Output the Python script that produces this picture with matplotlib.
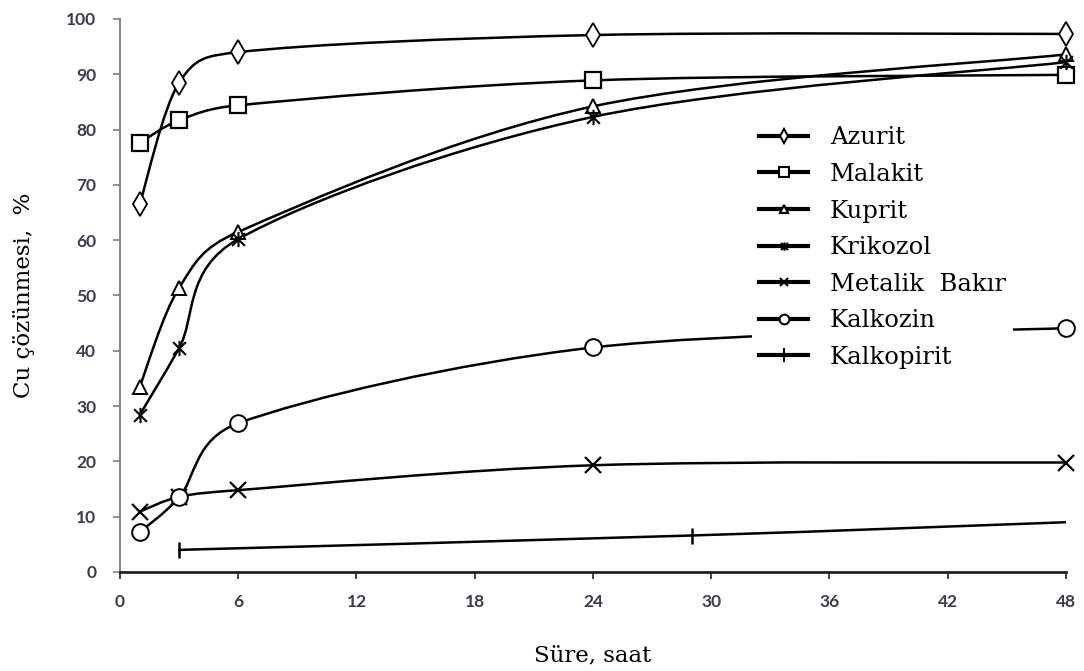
import numpy as np
import matplotlib
matplotlib.use("Agg")
import matplotlib.pyplot as plt
from matplotlib.path import Path
from matplotlib.patches import PathPatch
from matplotlib.lines import Line2D

# data (time in hours, Cu dissolution in %)
t = [1, 3, 6, 24, 48]
azurit = [66.5, 88.5, 94.0, 97.1, 97.3]
malakit = [77.6, 81.7, 84.4, 88.9, 89.9]
kuprit = [33.5, 51.4, 61.5, 84.2, 93.6]
krikozol = [28.4, 40.5, 60.2, 82.3, 92.2]
metalik_bakir = [10.9, 13.6, 14.8, 19.3, 19.8]
kalkozin = [7.2, 13.5, 26.9, 40.6, 44.1]
t_kalkopirit = [3, 29, 48]
kalkopirit = [4.0, 6.6, 9.0]

labels = ["Azurit", "Malakit", "Kuprit", "Krikozol", "Metalik  Bakır", "Kalkozin", "Kalkopirit"]
xticks = [0, 6, 12, 18, 24, 30, 36, 42, 48]
yticks = [0, 10, 20, 30, 40, 50, 60, 70, 80, 90, 100]

# asterisk-like star marker (x with a vertical stroke)
star = Path([(-1, -1), (1, 1), (-1, 1), (1, -1), (0, -1.2), (0, 1.2)],
            [Path.MOVETO, Path.LINETO, Path.MOVETO, Path.LINETO, Path.MOVETO, Path.LINETO])

fig = plt.figure(figsize=(10.84, 6.71), dpi=100)
ax = fig.add_axes([120 / 1084, 1 - 572 / 671, 946 / 1084, 553 / 671])
ax.set_xlim(0, 48)
ax.set_ylim(0, 100)


def smooth_line(ax, xs, ys, lw=1.8):
    """Excel-like smoothed line: cubic Beziers built in pixel space."""
    pts = ax.transData.transform(np.column_stack([xs, ys]))
    n = len(pts)
    verts = [pts[0]]
    codes = [Path.MOVETO]
    for i in range(n - 1):
        p0 = pts[max(i - 1, 0)]
        p1 = pts[i]
        p2 = pts[i + 1]
        p3 = pts[min(i + 2, n - 1)]
        seg = np.hypot(*(p2 - p1))
        a1 = (p2 - p0) / 6.0
        a2 = (p3 - p1) / 6.0
        for a in (a1, a2):
            ln = np.hypot(*a)
            if ln > seg / 2:
                a *= (seg / 2) / ln
        verts += [p1 + a1, p2 - a2, p2]
        codes += [Path.CURVE4] * 3
    verts = ax.transData.inverted().transform(np.array(verts))
    ax.add_patch(PathPatch(Path(verts, codes), fill=False, edgecolor="black",
                           lw=lw, zorder=2, capstyle="round", joinstyle="round"))


series = [
    (t, azurit, "d", 12, 1.3),
    (t, malakit, "s", 12, 1.6),
    (t, kuprit, "^", 10, 1.4),
    (t, krikozol, star, 11, 1.5),
    (t, metalik_bakir, "x", 11, 1.6),
    (t, kalkozin, "o", 12, 1.4),
]
for xs, ys, m, ms, mew in series:
    smooth_line(ax, xs, ys)
    ax.plot(xs, ys, ls="none", marker=m, ms=ms, mfc="white", mec="black", mew=mew,
            zorder=3, clip_on=False)

smooth_line(ax, t_kalkopirit, kalkopirit)
ax.plot(t_kalkopirit[:2], kalkopirit[:2], ls="none", marker="|", ms=12, mec="black",
        mew=1.8, zorder=3, clip_on=False)

# legend handles with small markers, as in the original
handle_markers = [("d", 7), ("s", 7), ("^", 6), (star, 6), ("x", 6), ("o", 7), ("|", 10)]
handles = [Line2D([], [], color="black", lw=3, marker=m, ms=s, mfc="white", mec="black", mew=1.5)
           for m, s in handle_markers]
leg = ax.legend(handles, labels, loc="upper left", bbox_to_anchor=(752 / 1084, 1 - 119 / 671),
                bbox_transform=fig.transFigure, frameon=True, fancybox=False,
                facecolor="white", edgecolor="none", framealpha=1.0,
                prop={"family": "DejaVu Serif", "size": 17.5}, handlelength=2.0,
                handletextpad=0.9, labelspacing=0.56, borderpad=0.3, borderaxespad=0)
leg.set_zorder(5)

ax.set_xticks(xticks)
ax.set_yticks(yticks)
ax.tick_params(axis="both", direction="out", length=5, width=1.2, colors="#7f7f7f",
               labelcolor="#3c3c4c", labelsize=12.5)
ax.tick_params(axis="x", pad=11, colors="#222222", labelcolor="#3c3c4c")
ax.tick_params(axis="y", pad=12)
for lab in ax.get_xticklabels() + ax.get_yticklabels():
    lab.set_fontfamily(["Lato", "DejaVu Sans"])
    lab.set_fontweight("bold")

for side in ("top", "right"):
    ax.spines[side].set_visible(False)
ax.spines["left"].set_color("#868686")
ax.spines["left"].set_linewidth(1.5)
ax.spines["bottom"].set_color("#222222")
ax.spines["bottom"].set_linewidth(2)

fig.text(593 / 1084, 1 - 655 / 671, "Süre, saat", ha="center", va="center",
         family="DejaVu Serif", fontsize=16.5)
fig.text(24 / 1084, 1 - 295 / 671, "Cu çözünmesi,  %", ha="center", va="center",
         rotation=90, family="DejaVu Serif", fontsize=16.5)

fig.savefig("out.png", dpi=100)
